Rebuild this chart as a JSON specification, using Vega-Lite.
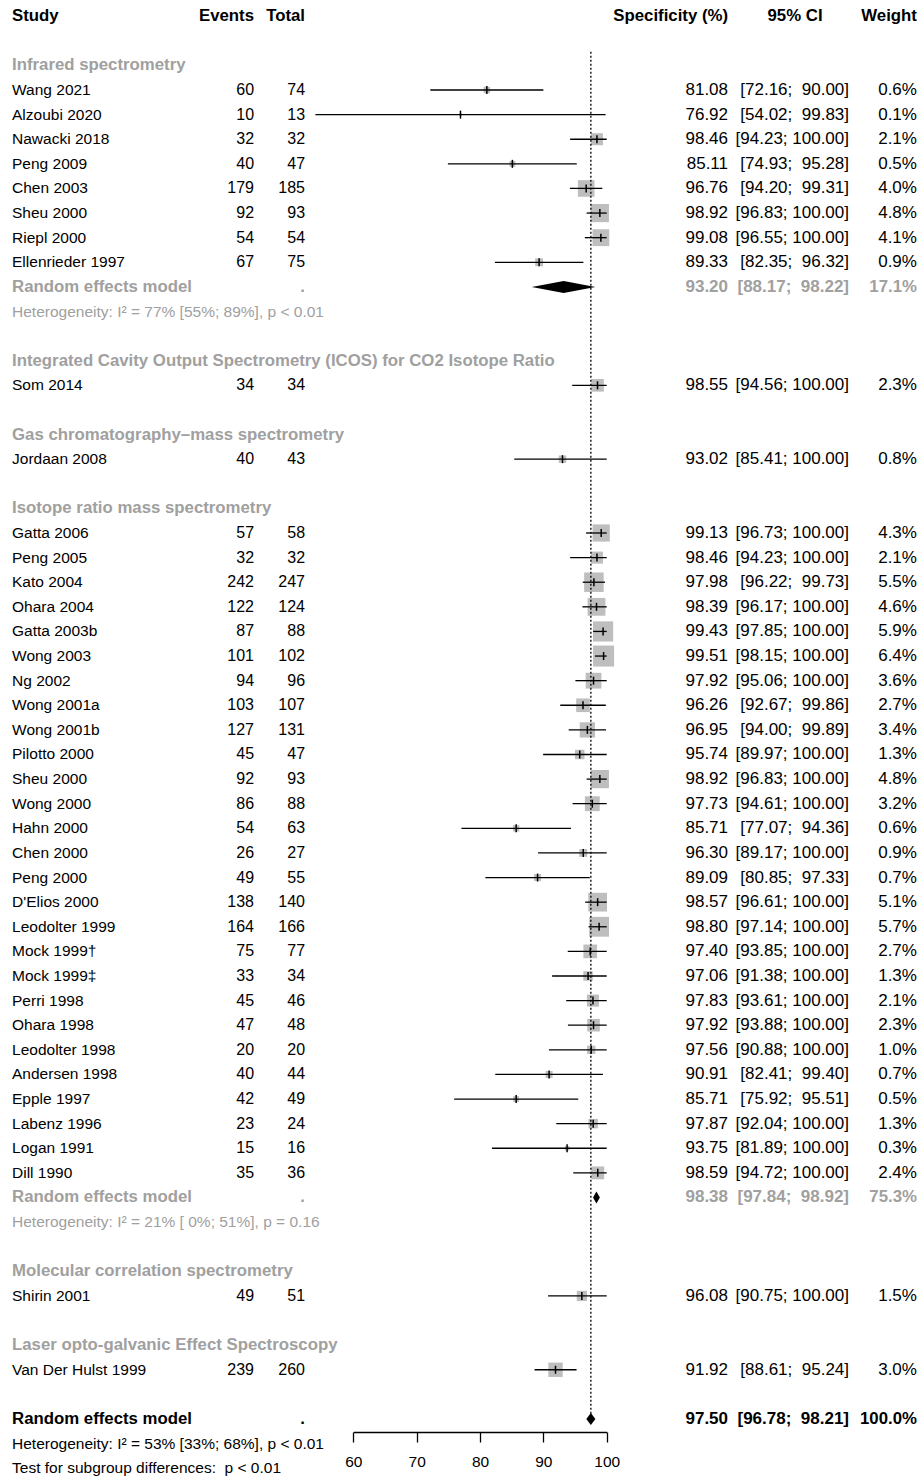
{
  "$schema": "https://vega.github.io/schema/vega-lite/v6.json",
  "width": 921,
  "height": 1432,
  "autosize": {"type": "none"},
  "padding": {"left": 0, "top": 0, "right": 0, "bottom": 45},
  "background": "white",
  "config": {
    "view": {"stroke": null},
    "font": "Liberation Sans",
    "axisX": {"grid": false, "domainColor": "#000000", "domainWidth": 1.3, "tickColor": "#000000", "tickWidth": 1.3, "tickSize": 10,
              "labelFontSize": 15.5, "labelColor": "#000000", "labelFont": "Liberation Sans", "labelPadding": 12,
              "labelFlush": false, "labelOverlap": false}
  },
  "datasets": {
    "fp": [
      {"row": -2, "kind": "colhead", "label": "Study", "events": "Events", "total": "Total", "spec": "Specificity (%)", "ci": "95% CI", "wt": "Weight"},
      {"row": 0, "kind": "group", "label": "Infrared spectrometry"},
      {"row": 1, "kind": "study", "label": "Wang 2021", "events": 60, "total": 74, "est": 81.08, "lo": 72.16, "hi": 90.00, "w": 0.006, "ci": "[72.16;\u00a0\u00a090.00]"},
      {"row": 2, "kind": "study", "label": "Alzoubi 2020", "events": 10, "total": 13, "est": 76.92, "lo": 54.02, "hi": 99.83, "w": 0.001, "ci": "[54.02;\u00a0\u00a099.83]"},
      {"row": 3, "kind": "study", "label": "Nawacki 2018", "events": 32, "total": 32, "est": 98.46, "lo": 94.23, "hi": 100, "w": 0.021, "ci": "[94.23; 100.00]"},
      {"row": 4, "kind": "study", "label": "Peng 2009", "events": 40, "total": 47, "est": 85.11, "lo": 74.93, "hi": 95.28, "w": 0.005, "ci": "[74.93;\u00a0\u00a095.28]"},
      {"row": 5, "kind": "study", "label": "Chen 2003", "events": 179, "total": 185, "est": 96.76, "lo": 94.20, "hi": 99.31, "w": 0.040, "ci": "[94.20;\u00a0\u00a099.31]"},
      {"row": 6, "kind": "study", "label": "Sheu 2000", "events": 92, "total": 93, "est": 98.92, "lo": 96.83, "hi": 100, "w": 0.048, "ci": "[96.83; 100.00]"},
      {"row": 7, "kind": "study", "label": "Riepl 2000", "events": 54, "total": 54, "est": 99.08, "lo": 96.55, "hi": 100, "w": 0.041, "ci": "[96.55; 100.00]"},
      {"row": 8, "kind": "study", "label": "Ellenrieder 1997", "events": 67, "total": 75, "est": 89.33, "lo": 82.35, "hi": 96.32, "w": 0.009, "ci": "[82.35;\u00a0\u00a096.32]"},
      {"row": 9, "kind": "rem", "label": "Random effects model", "total": ".", "est": 93.20, "lo": 88.17, "hi": 98.22, "w": 0.171, "ci": "[88.17;\u00a0\u00a098.22]"},
      {"row": 10, "kind": "het", "label": "Heterogeneity: I\u00b2 = 77% [55%; 89%], p < 0.01"},
      {"row": 12, "kind": "group", "label": "Integrated Cavity Output Spectrometry (ICOS) for CO2 Isotope Ratio"},
      {"row": 13, "kind": "study", "label": "Som 2014", "events": 34, "total": 34, "est": 98.55, "lo": 94.56, "hi": 100, "w": 0.023, "ci": "[94.56; 100.00]"},
      {"row": 15, "kind": "group", "label": "Gas chromatography\u2013mass spectrometry"},
      {"row": 16, "kind": "study", "label": "Jordaan 2008", "events": 40, "total": 43, "est": 93.02, "lo": 85.41, "hi": 100, "w": 0.008, "ci": "[85.41; 100.00]"},
      {"row": 18, "kind": "group", "label": "Isotope ratio mass spectrometry"},
      {"row": 19, "kind": "study", "label": "Gatta 2006", "events": 57, "total": 58, "est": 99.13, "lo": 96.73, "hi": 100, "w": 0.043, "ci": "[96.73; 100.00]"},
      {"row": 20, "kind": "study", "label": "Peng 2005", "events": 32, "total": 32, "est": 98.46, "lo": 94.23, "hi": 100, "w": 0.021, "ci": "[94.23; 100.00]"},
      {"row": 21, "kind": "study", "label": "Kato 2004", "events": 242, "total": 247, "est": 97.98, "lo": 96.22, "hi": 99.73, "w": 0.055, "ci": "[96.22;\u00a0\u00a099.73]"},
      {"row": 22, "kind": "study", "label": "Ohara 2004", "events": 122, "total": 124, "est": 98.39, "lo": 96.17, "hi": 100, "w": 0.046, "ci": "[96.17; 100.00]"},
      {"row": 23, "kind": "study", "label": "Gatta 2003b", "events": 87, "total": 88, "est": 99.43, "lo": 97.85, "hi": 100, "w": 0.059, "ci": "[97.85; 100.00]"},
      {"row": 24, "kind": "study", "label": "Wong 2003", "events": 101, "total": 102, "est": 99.51, "lo": 98.15, "hi": 100, "w": 0.064, "ci": "[98.15; 100.00]"},
      {"row": 25, "kind": "study", "label": "Ng 2002", "events": 94, "total": 96, "est": 97.92, "lo": 95.06, "hi": 100, "w": 0.036, "ci": "[95.06; 100.00]"},
      {"row": 26, "kind": "study", "label": "Wong 2001a", "events": 103, "total": 107, "est": 96.26, "lo": 92.67, "hi": 99.86, "w": 0.027, "ci": "[92.67;\u00a0\u00a099.86]"},
      {"row": 27, "kind": "study", "label": "Wong 2001b", "events": 127, "total": 131, "est": 96.95, "lo": 94.00, "hi": 99.89, "w": 0.034, "ci": "[94.00;\u00a0\u00a099.89]"},
      {"row": 28, "kind": "study", "label": "Pilotto 2000", "events": 45, "total": 47, "est": 95.74, "lo": 89.97, "hi": 100, "w": 0.013, "ci": "[89.97; 100.00]"},
      {"row": 29, "kind": "study", "label": "Sheu 2000", "events": 92, "total": 93, "est": 98.92, "lo": 96.83, "hi": 100, "w": 0.048, "ci": "[96.83; 100.00]"},
      {"row": 30, "kind": "study", "label": "Wong 2000", "events": 86, "total": 88, "est": 97.73, "lo": 94.61, "hi": 100, "w": 0.032, "ci": "[94.61; 100.00]"},
      {"row": 31, "kind": "study", "label": "Hahn 2000", "events": 54, "total": 63, "est": 85.71, "lo": 77.07, "hi": 94.36, "w": 0.006, "ci": "[77.07;\u00a0\u00a094.36]"},
      {"row": 32, "kind": "study", "label": "Chen 2000", "events": 26, "total": 27, "est": 96.30, "lo": 89.17, "hi": 100, "w": 0.009, "ci": "[89.17; 100.00]"},
      {"row": 33, "kind": "study", "label": "Peng 2000", "events": 49, "total": 55, "est": 89.09, "lo": 80.85, "hi": 97.33, "w": 0.007, "ci": "[80.85;\u00a0\u00a097.33]"},
      {"row": 34, "kind": "study", "label": "D'Elios 2000", "events": 138, "total": 140, "est": 98.57, "lo": 96.61, "hi": 100, "w": 0.051, "ci": "[96.61; 100.00]"},
      {"row": 35, "kind": "study", "label": "Leodolter 1999", "events": 164, "total": 166, "est": 98.80, "lo": 97.14, "hi": 100, "w": 0.057, "ci": "[97.14; 100.00]"},
      {"row": 36, "kind": "study", "label": "Mock 1999\u2020", "events": 75, "total": 77, "est": 97.40, "lo": 93.85, "hi": 100, "w": 0.027, "ci": "[93.85; 100.00]"},
      {"row": 37, "kind": "study", "label": "Mock 1999\u2021", "events": 33, "total": 34, "est": 97.06, "lo": 91.38, "hi": 100, "w": 0.013, "ci": "[91.38; 100.00]"},
      {"row": 38, "kind": "study", "label": "Perri 1998", "events": 45, "total": 46, "est": 97.83, "lo": 93.61, "hi": 100, "w": 0.021, "ci": "[93.61; 100.00]"},
      {"row": 39, "kind": "study", "label": "Ohara 1998", "events": 47, "total": 48, "est": 97.92, "lo": 93.88, "hi": 100, "w": 0.023, "ci": "[93.88; 100.00]"},
      {"row": 40, "kind": "study", "label": "Leodolter 1998", "events": 20, "total": 20, "est": 97.56, "lo": 90.88, "hi": 100, "w": 0.010, "ci": "[90.88; 100.00]"},
      {"row": 41, "kind": "study", "label": "Andersen 1998", "events": 40, "total": 44, "est": 90.91, "lo": 82.41, "hi": 99.40, "w": 0.007, "ci": "[82.41;\u00a0\u00a099.40]"},
      {"row": 42, "kind": "study", "label": "Epple 1997", "events": 42, "total": 49, "est": 85.71, "lo": 75.92, "hi": 95.51, "w": 0.005, "ci": "[75.92;\u00a0\u00a095.51]"},
      {"row": 43, "kind": "study", "label": "Labenz 1996", "events": 23, "total": 24, "est": 97.87, "lo": 92.04, "hi": 100, "w": 0.013, "ci": "[92.04; 100.00]"},
      {"row": 44, "kind": "study", "label": "Logan 1991", "events": 15, "total": 16, "est": 93.75, "lo": 81.89, "hi": 100, "w": 0.003, "ci": "[81.89; 100.00]"},
      {"row": 45, "kind": "study", "label": "Dill 1990", "events": 35, "total": 36, "est": 98.59, "lo": 94.72, "hi": 100, "w": 0.024, "ci": "[94.72; 100.00]"},
      {"row": 46, "kind": "rem", "label": "Random effects model", "total": ".", "est": 98.38, "lo": 97.84, "hi": 98.92, "w": 0.753, "ci": "[97.84;\u00a0\u00a098.92]"},
      {"row": 47, "kind": "het", "label": "Heterogeneity: I\u00b2 = 21% [ 0%; 51%], p = 0.16"},
      {"row": 49, "kind": "group", "label": "Molecular correlation spectrometry"},
      {"row": 50, "kind": "study", "label": "Shirin 2001", "events": 49, "total": 51, "est": 96.08, "lo": 90.75, "hi": 100, "w": 0.015, "ci": "[90.75; 100.00]"},
      {"row": 52, "kind": "group", "label": "Laser opto-galvanic Effect Spectroscopy"},
      {"row": 53, "kind": "study", "label": "Van Der Hulst 1999", "events": 239, "total": 260, "est": 91.92, "lo": 88.61, "hi": 95.24, "w": 0.030, "ci": "[88.61;\u00a0\u00a095.24]"},
      {"row": 55, "kind": "overall", "label": "Random effects model", "total": ".", "est": 97.50, "lo": 96.78, "hi": 98.21, "w": 1.0, "ci": "[96.78;\u00a0\u00a098.21]"},
      {"row": 56, "kind": "hetall", "label": "Heterogeneity: I\u00b2 = 53% [33%; 68%], p < 0.01"},
      {"row": 57, "kind": "hetall", "label": "Test for subgroup differences:\u00a0 p < 0.01"}
    ]
  },
  "data": {"name": "fp"},
  "encoding": {
    "y": {"field": "row", "type": "quantitative", "scale": {"domain": [0, 57], "range": [65.4, 1468.2], "nice": false, "zero": false}, "axis": null}
  },
  "resolve": {"axis": {"x": "shared"}, "scale": {"x": "shared"}},
  "layer": [
    {
      "transform": [{"filter": "datum.kind === 'study'"}],
      "mark": {"type": "point", "shape": "square", "filled": true, "color": "#bebebe", "opacity": 1},
      "encoding": {
        "x": {
          "field": "est", "type": "quantitative",
          "scale": {"domain": [60, 100], "range": [353.3, 606.7], "nice": false, "zero": false},
          "axis": {"title": null, "values": [60, 70, 80, 90, 100]}
        },
        "size": {"field": "w", "type": "quantitative", "scale": {"domain": [0, 0.064], "range": [0, 441]}, "legend": null}
      }
    },
    {
      "transform": [{"filter": "datum.kind === 'overall'"}],
      "mark": {"type": "rule", "strokeDash": [2, 2], "strokeWidth": 1.3, "color": "#000000"},
      "encoding": {
        "x": {"field": "est", "type": "quantitative", "axis": {"title": null, "values": [60, 70, 80, 90, 100]}},
        "y": {"datum": -0.55, "type": "quantitative"},
        "y2": {"datum": 55}
      }
    },
    {
      "transform": [{"filter": "datum.kind === 'study'"}],
      "mark": {"type": "rule", "strokeWidth": 1.3, "color": "#000000"},
      "encoding": {
        "x": {"field": "lo", "type": "quantitative", "axis": {"title": null, "values": [60, 70, 80, 90, 100]}},
        "x2": {"field": "hi"}
      }
    },
    {
      "transform": [{"filter": "datum.kind === 'study'"}],
      "mark": {"type": "point", "shape": "M0,-1L0,1", "filled": false, "stroke": "#000000", "strokeWidth": 1.5, "size": 64, "opacity": 1},
      "encoding": {
        "x": {"field": "est", "type": "quantitative", "axis": {"title": null, "values": [60, 70, 80, 90, 100]}}
      }
    },
    {
      "transform": [
        {"filter": "datum.kind === 'rem' || datum.kind === 'overall'"},
        {"fold": ["lo", "est", "hi"], "as": ["vertex", "xv"]}
      ],
      "mark": {"type": "area", "color": "#000000", "opacity": 1,
               "yOffset": {"expr": "datum.vertex === 'est' ? -6 : 0"},
               "y2Offset": {"expr": "datum.vertex === 'est' ? 6 : 0"}},
      "encoding": {
        "x": {"field": "xv", "type": "quantitative", "axis": {"title": null, "values": [60, 70, 80, 90, 100]}},
        "y2": {"field": "row"},
        "detail": {"field": "row", "type": "nominal"}
      }
    },
    {
      "transform": [{"filter": "datum.kind === 'study'"}],
      "mark": {"type": "text", "align": "left", "baseline": "middle", "fontSize": 15.5, "font": "Liberation Sans", "color": "#000000"},
      "encoding": {"x": {"datum": 6.13, "type": "quantitative", "axis": {"title": null, "values": [60, 70, 80, 90, 100]}}, "text": {"field": "label", "type": "nominal"}}
    },
    {
      "transform": [{"filter": "datum.kind === 'study'"}],
      "mark": {"type": "text", "align": "right", "baseline": "middle", "fontSize": 16, "font": "Liberation Sans", "color": "#000000"},
      "encoding": {"x": {"datum": 44.33, "type": "quantitative", "axis": {"title": null, "values": [60, 70, 80, 90, 100]}}, "text": {"field": "events", "type": "nominal"}}
    },
    {
      "transform": [{"filter": "datum.kind === 'study'"}],
      "mark": {"type": "text", "align": "right", "baseline": "middle", "fontSize": 16, "font": "Liberation Sans", "color": "#000000"},
      "encoding": {"x": {"datum": 52.38, "type": "quantitative", "axis": {"title": null, "values": [60, 70, 80, 90, 100]}}, "text": {"field": "total", "type": "nominal"}}
    },
    {
      "transform": [{"filter": "datum.kind === 'study'"}],
      "mark": {"type": "text", "align": "right", "baseline": "middle", "fontSize": 17, "font": "Liberation Sans", "color": "#000000"},
      "encoding": {"x": {"datum": 119.15, "type": "quantitative", "axis": {"title": null, "values": [60, 70, 80, 90, 100]}}, "text": {"field": "est", "type": "quantitative", "format": ".2f"}}
    },
    {
      "transform": [{"filter": "datum.kind === 'study'"}],
      "mark": {"type": "text", "align": "right", "baseline": "middle", "fontSize": 17, "font": "Liberation Sans", "color": "#000000"},
      "encoding": {"x": {"datum": 138.25, "type": "quantitative", "axis": {"title": null, "values": [60, 70, 80, 90, 100]}}, "text": {"field": "ci", "type": "nominal"}}
    },
    {
      "transform": [{"filter": "datum.kind === 'study'"}],
      "mark": {"type": "text", "align": "right", "baseline": "middle", "fontSize": 17, "font": "Liberation Sans", "color": "#000000"},
      "encoding": {"x": {"datum": 148.97, "type": "quantitative", "axis": {"title": null, "values": [60, 70, 80, 90, 100]}}, "text": {"field": "w", "type": "quantitative", "format": ".1%"}}
    },
    {
      "transform": [{"filter": "datum.kind === 'colhead' || datum.kind === 'group' || datum.kind === 'rem' || datum.kind === 'overall'"}],
      "mark": {"type": "text", "align": "left", "baseline": "middle", "fontSize": 16.8, "fontWeight": "bold", "font": "Liberation Sans"},
      "encoding": {
        "x": {"datum": 6.13, "type": "quantitative", "axis": {"title": null, "values": [60, 70, 80, 90, 100]}},
        "text": {"field": "label", "type": "nominal"},
        "color": {"field": "kind", "type": "nominal", "legend": null,
                  "scale": {"domain": ["colhead", "group", "rem", "het", "overall", "hetall", "study"], "range": ["#000000", "#a0a0a0", "#a0a0a0", "#a0a0a0", "#000000", "#000000", "#000000"]}}
      }
    },
    {
      "transform": [{"filter": "datum.kind === 'colhead'"}],
      "mark": {"type": "text", "align": "right", "baseline": "middle", "fontSize": 16.8, "fontWeight": "bold", "font": "Liberation Sans", "color": "#000000"},
      "encoding": {"x": {"datum": 44.33, "type": "quantitative", "axis": {"title": null, "values": [60, 70, 80, 90, 100]}}, "text": {"field": "events", "type": "nominal"}}
    },
    {
      "transform": [{"filter": "datum.kind === 'colhead' || datum.kind === 'rem' || datum.kind === 'overall'"}],
      "mark": {"type": "text", "align": "right", "baseline": "middle", "fontSize": 16.8, "fontWeight": "bold", "font": "Liberation Sans"},
      "encoding": {
        "x": {"datum": 52.38, "type": "quantitative", "axis": {"title": null, "values": [60, 70, 80, 90, 100]}},
        "text": {"field": "total", "type": "nominal"},
        "color": {"field": "kind", "type": "nominal", "legend": null,
                  "scale": {"domain": ["colhead", "group", "rem", "het", "overall", "hetall", "study"], "range": ["#000000", "#a0a0a0", "#a0a0a0", "#a0a0a0", "#000000", "#000000", "#000000"]}}
      }
    },
    {
      "transform": [{"filter": "datum.kind === 'colhead'"}],
      "mark": {"type": "text", "align": "right", "baseline": "middle", "fontSize": 16.8, "fontWeight": "bold", "font": "Liberation Sans", "color": "#000000"},
      "encoding": {"x": {"datum": 119.15, "type": "quantitative", "axis": {"title": null, "values": [60, 70, 80, 90, 100]}}, "text": {"field": "spec", "type": "nominal"}}
    },
    {
      "transform": [{"filter": "datum.kind === 'colhead'"}],
      "mark": {"type": "text", "align": "center", "baseline": "middle", "fontSize": 16.8, "fontWeight": "bold", "font": "Liberation Sans", "color": "#000000"},
      "encoding": {"x": {"datum": 129.73, "type": "quantitative", "axis": {"title": null, "values": [60, 70, 80, 90, 100]}}, "text": {"field": "ci", "type": "nominal"}}
    },
    {
      "transform": [{"filter": "datum.kind === 'colhead'"}],
      "mark": {"type": "text", "align": "right", "baseline": "middle", "fontSize": 16.8, "fontWeight": "bold", "font": "Liberation Sans", "color": "#000000"},
      "encoding": {"x": {"datum": 148.97, "type": "quantitative", "axis": {"title": null, "values": [60, 70, 80, 90, 100]}}, "text": {"field": "wt", "type": "nominal"}}
    },
    {
      "transform": [{"filter": "datum.kind === 'rem' || datum.kind === 'overall'"}],
      "mark": {"type": "text", "align": "right", "baseline": "middle", "fontSize": 17, "fontWeight": "bold", "font": "Liberation Sans"},
      "encoding": {
        "x": {"datum": 119.15, "type": "quantitative", "axis": {"title": null, "values": [60, 70, 80, 90, 100]}},
        "text": {"field": "est", "type": "quantitative", "format": ".2f"},
        "color": {"field": "kind", "type": "nominal", "legend": null,
                  "scale": {"domain": ["colhead", "group", "rem", "het", "overall", "hetall", "study"], "range": ["#000000", "#a0a0a0", "#a0a0a0", "#a0a0a0", "#000000", "#000000", "#000000"]}}
      }
    },
    {
      "transform": [{"filter": "datum.kind === 'rem' || datum.kind === 'overall'"}],
      "mark": {"type": "text", "align": "right", "baseline": "middle", "fontSize": 17, "fontWeight": "bold", "font": "Liberation Sans"},
      "encoding": {
        "x": {"datum": 138.25, "type": "quantitative", "axis": {"title": null, "values": [60, 70, 80, 90, 100]}},
        "text": {"field": "ci", "type": "nominal"},
        "color": {"field": "kind", "type": "nominal", "legend": null,
                  "scale": {"domain": ["colhead", "group", "rem", "het", "overall", "hetall", "study"], "range": ["#000000", "#a0a0a0", "#a0a0a0", "#a0a0a0", "#000000", "#000000", "#000000"]}}
      }
    },
    {
      "transform": [{"filter": "datum.kind === 'rem' || datum.kind === 'overall'"}],
      "mark": {"type": "text", "align": "right", "baseline": "middle", "fontSize": 16.8, "fontWeight": "bold", "font": "Liberation Sans"},
      "encoding": {
        "x": {"datum": 148.97, "type": "quantitative", "axis": {"title": null, "values": [60, 70, 80, 90, 100]}},
        "text": {"field": "w", "type": "quantitative", "format": ".1%"},
        "color": {"field": "kind", "type": "nominal", "legend": null,
                  "scale": {"domain": ["colhead", "group", "rem", "het", "overall", "hetall", "study"], "range": ["#000000", "#a0a0a0", "#a0a0a0", "#a0a0a0", "#000000", "#000000", "#000000"]}}
      }
    },
    {
      "transform": [{"filter": "datum.kind === 'het' || datum.kind === 'hetall'"}],
      "mark": {"type": "text", "align": "left", "baseline": "middle", "fontSize": 15.5, "font": "Liberation Sans"},
      "encoding": {
        "x": {"datum": 6.13, "type": "quantitative", "axis": {"title": null, "values": [60, 70, 80, 90, 100]}},
        "text": {"field": "label", "type": "nominal"},
        "color": {"field": "kind", "type": "nominal", "legend": null,
                  "scale": {"domain": ["colhead", "group", "rem", "het", "overall", "hetall", "study"], "range": ["#000000", "#a0a0a0", "#a0a0a0", "#a0a0a0", "#000000", "#000000", "#000000"]}}
      }
    }
  ]
}
